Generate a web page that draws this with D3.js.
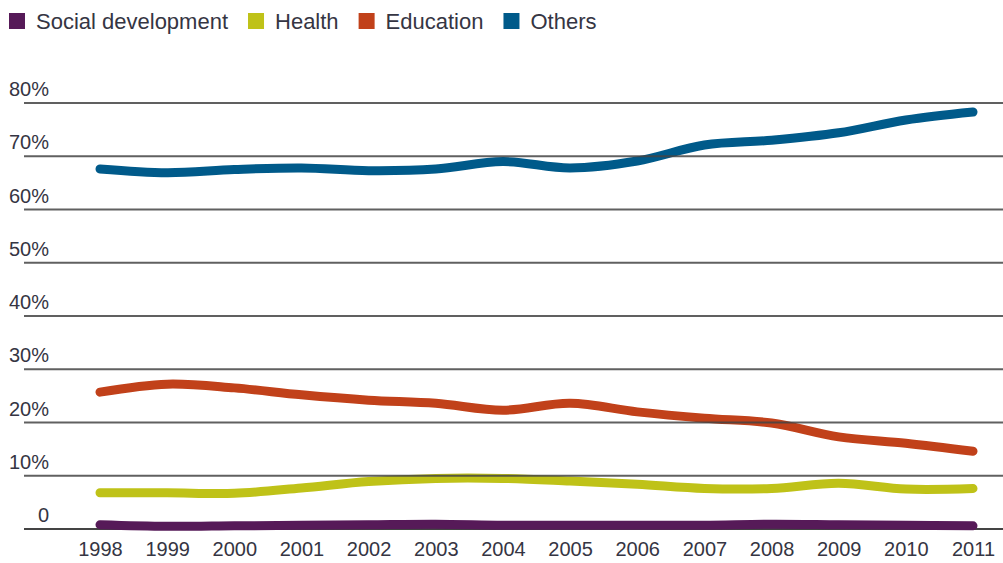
<!DOCTYPE html>
<html>
<head>
<meta charset="utf-8">
<script src="https://cdn.jsdelivr.net/npm/d3@7"></script>
<style>
  html, body { margin: 0; padding: 0; background: #fff; }
  svg { display: block; }
  text { font-family: "Liberation Sans", Arial, sans-serif; fill: #353543; }
</style>
</head>
<body>
<svg id="chart" width="1003" height="563"></svg>
<script>
const years = [1998,1999,2000,2001,2002,2003,2004,2005,2006,2007,2008,2009,2010,2011];
const yTicks = [0,10,20,30,40,50,60,70,80];
const seriesNames = ["Social development","Health","Education","Others"];
const seriesColors = ["#561a58","#bfc218","#c1411a","#005a8a"];
const social    = [0.8,0.5,0.6,0.7,0.8,0.9,0.7,0.7,0.7,0.7,0.9,0.8,0.7,0.6];
const health    = [6.8,6.8,6.7,7.7,8.9,9.5,9.5,9.0,8.4,7.6,7.6,8.6,7.5,7.6];
const education = [25.7,27.2,26.5,25.2,24.2,23.6,22.3,23.6,22.0,20.8,19.9,17.3,16.1,14.6];
const others    = [67.6,66.9,67.5,67.8,67.3,67.6,69.0,67.8,69.1,72.1,73.0,74.4,76.8,78.3];
const seriesValues = [social, health, education, others];

const svg = d3.select("#chart");
const x = d3.scaleLinear().domain([1998, 2011]).range([100, 973]);
const y = d3.scaleLinear().domain([0, 80]).range([529, 103]);

// baseline under lines
svg.append("line")
  .attr("x1", 24).attr("x2", 1003)
  .attr("y1", y(0)).attr("y2", y(0))
  .attr("stroke", "#444").attr("stroke-width", 2);

const line = d3.line()
  .x((d, i) => x(years[i]))
  .y(d => y(d))
  .curve(d3.curveCatmullRom.alpha(0.5));

svg.append("g").selectAll("path")
  .data(seriesValues)
  .join("path")
  .attr("d", d => line(d))
  .attr("fill", "none")
  .attr("stroke", (d, i) => seriesColors[i])
  .attr("stroke-width", 9)
  .attr("stroke-linecap", "round")
  .attr("stroke-linejoin", "round");

// gridlines on top
const grid = svg.append("g");
grid.selectAll("line")
  .data(yTicks.filter(t => t > 0))
  .join("line")
  .attr("x1", 24).attr("x2", 1003)
  .attr("y1", d => y(d)).attr("y2", d => y(d))
  .attr("stroke", "#444").attr("stroke-width", 2).attr("stroke-opacity", 0.85);

// y labels
svg.append("g").selectAll("text")
  .data(yTicks)
  .join("text")
  .attr("x", 49)
  .attr("y", d => y(d) - 7)
  .attr("text-anchor", "end")
  .attr("font-size", 20)
  .text(d => d === 0 ? "0" : d + "%");

// x axis labels
const xAxis = d3.axisBottom(x).tickValues(years).tickFormat(d3.format("d")).tickSize(0).tickPadding(0);
const xg = svg.append("g").attr("transform", "translate(0,542)").call(xAxis);
xg.select(".domain").remove();
xg.selectAll("text")
  .attr("font-size", 20)
  .attr("font-family", "'Liberation Sans', Arial, sans-serif")
  .attr("fill", "#353543")
  .attr("dy", "0.71em");

// legend
const legend = svg.append("g");
let lx = 9;
seriesNames.forEach((name, i) => {
  legend.append("rect")
    .attr("x", lx).attr("y", 13).attr("width", 16).attr("height", 16)
    .attr("fill", seriesColors[i]);
  const t = legend.append("text")
    .attr("x", lx + 27).attr("y", 29)
    .attr("font-size", 22)
    .text(name);
  lx = lx + 27 + t.node().getComputedTextLength() + 20;
});
</script>
</body>
</html>
